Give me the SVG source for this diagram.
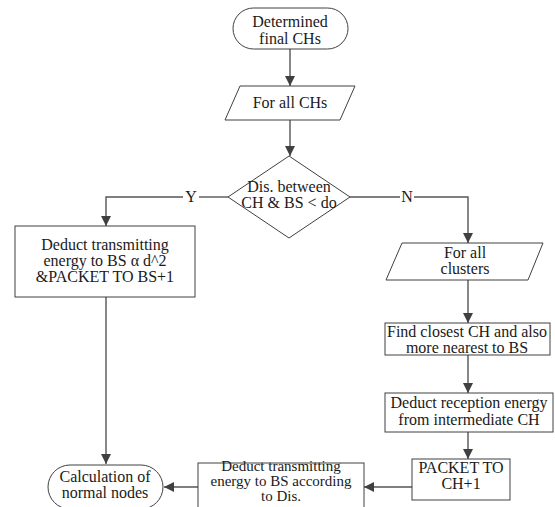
<svg xmlns="http://www.w3.org/2000/svg" width="555" height="507" viewBox="0 0 555 507" font-family="Liberation Serif, Times New Roman, Times, serif">
<defs>
<marker id="ah" viewBox="0 0 10 10" refX="10" refY="5" markerWidth="10" markerHeight="10" markerUnits="userSpaceOnUse" orient="auto">
<path d="M0,0 L10,5 L0,10 Z" fill="#404040"/>
</marker>
</defs>
<style>
.s{fill:#fff;stroke:#404040;stroke-width:1}
.t{font-size:16px;fill:#1a1a1a;text-anchor:middle}
.t15{font-size:15px}
.c{fill:none;stroke:#555;stroke-width:1.4}
.ca{fill:none;stroke:#555;stroke-width:1.4;marker-end:url(#ah)}
</style>
<rect width="555" height="507" fill="#fff"/>
<g id="connectors">
<path class="ca" d="M290,49 V86"/>
<path class="ca" d="M290,120 V156"/>
<path class="c" d="M228,197 H199"/>
<path class="ca" d="M183,197 H106 V226"/>
<path class="c" d="M350,197 H400"/>
<path class="ca" d="M414,197 H468 V243"/>
<path class="ca" d="M106,297 V464"/>
<path class="ca" d="M468,280 V323"/>
<path class="ca" d="M468,355 V393"/>
<path class="ca" d="M468,432 V459"/>
<path class="ca" d="M412,487 H364"/>
<path class="ca" d="M198,487 H164"/>
<text class="t" x="191" y="202">Y</text>
<text class="t" x="407" y="202">N</text>
</g>
<g id="start">
<rect class="s" x="233" y="8" width="115" height="41" rx="20.5"/>
<text class="t" x="290" y="27">Determined</text>
<text class="t" x="290" y="44">final CHs</text>
</g>
<g id="forAllCHs">
<polygon class="s" points="240,86 355,86 340,120 225,120"/>
<text class="t" x="290" y="108">For all CHs</text>
</g>
<g id="decision">
<polygon class="s" points="289,156 350,197 289,238 228,197"/>
<text class="t" x="289" y="192">Dis. between</text>
<text class="t" x="289" y="208">CH &amp; BS &lt; do</text>
</g>
<g id="deductLeft">
<rect class="s" x="15" y="226" width="180" height="71"/>
<text class="t" x="105" y="250">Deduct transmitting</text>
<text class="t" x="105" y="266">energy to BS α d^2</text>
<text class="t" x="105" y="282">&amp;PACKET TO BS+1</text>
</g>
<g id="forAllClusters">
<polygon class="s" points="402,243 543,243 528,280 386,280"/>
<text class="t" x="465" y="258">For all</text>
<text class="t" x="465" y="274">clusters</text>
</g>
<g id="findClosest">
<rect class="s" x="385" y="323" width="165" height="32"/>
<text class="t" x="467" y="337">Find closest CH and also</text>
<text class="t" x="467" y="353">more nearest to BS</text>
</g>
<g id="deductReception">
<rect class="s" x="385" y="393" width="168" height="39"/>
<text class="t" x="469" y="408">Deduct reception energy</text>
<text class="t" x="469" y="425">from intermediate CH</text>
</g>
<g id="packetCH">
<rect class="s" x="412" y="459" width="98" height="41"/>
<text class="t" x="461" y="473">PACKET TO</text>
<text class="t" x="461" y="489">CH+1</text>
</g>
<g id="deductTransmit">
<rect class="s" x="198" y="463" width="166" height="48"/>
<text class="t t15" x="281" y="471">Deduct transmitting</text>
<text class="t t15" x="281" y="486">energy to BS according</text>
<text class="t t15" x="281" y="501">to Dis.</text>
</g>
<g id="calcNormal">
<rect class="s" x="48" y="465" width="115" height="44" rx="22"/>
<text class="t" x="105" y="482">Calculation of</text>
<text class="t" x="105" y="498">normal nodes</text>
</g>
</svg>
